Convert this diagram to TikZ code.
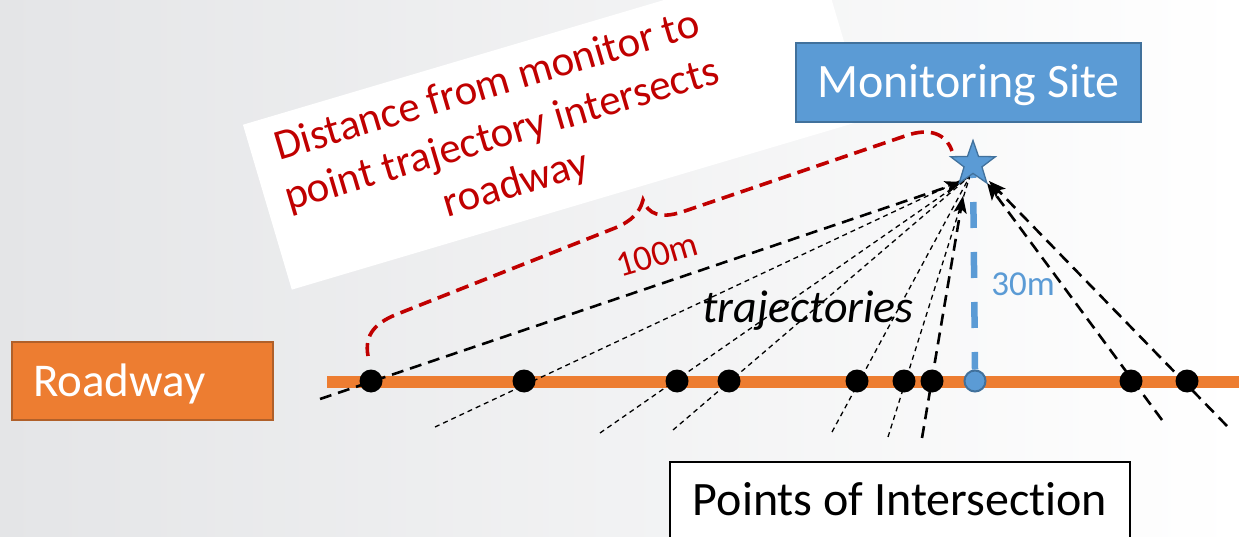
\documentclass[tikz,border=0pt]{standalone}
\usepackage{fontspec}
\setmainfont{Carlito}[RawFeature={-liga;-calt;-dlig}]
\usetikzlibrary{shapes.geometric,arrows.meta}
\definecolor{roadorange}{HTML}{ED7D31}
\definecolor{roadedge}{HTML}{B0602A}
\definecolor{siteblue}{HTML}{5B9BD5}
\definecolor{siteedge}{HTML}{41719C}
\definecolor{notered}{HTML}{C00000}
\definecolor{bgleft}{HTML}{E4E5E7}
\begin{document}
\begin{tikzpicture}[x=1pt,y=-1pt,
  thicktraj/.style={line width=2.6pt,dash pattern=on 12pt off 7pt,-{Stealth[length=17pt,width=13pt,inset=4pt]}},
  thintraj/.style={line width=1.3pt,dash pattern=on 5pt off 4pt},
  dot/.style={circle,fill=black,inner sep=0pt,minimum size=23pt},
  bracepath/.style={draw=notered,line width=3.6pt,dash pattern=on 13pt off 7pt},
  sitestar/.style={star,star points=5,star point ratio=2.5,minimum size=47pt,inner sep=0pt,
    fill=siteblue,draw=siteedge,line width=1.3pt},
  labelbox/.style={inner xsep=0pt,inner ysep=0pt,line width=1.5pt}]
\clip (0,0) rectangle (1239,537);
\fill[left color=bgleft,right color=white] (0,0) rectangle (1239,537);

% white note box with red text
\node[fill=white,rotate=16.5,minimum width=600pt,minimum height=172pt,inner sep=0pt] (notebox) at (555,122) {};
\node[rotate=16.5,align=center,text=notered,font=\fontsize{43}{51}\selectfont] (notetext) at (502,136)
  {Distance from monitor to\\point trajectory intersects\\roadway};

% roadway line
\coordinate (roadstart) at (327,382);
\coordinate (roadend) at (1239,382);
\draw[roadorange,line width=12pt] (roadstart) -- (roadend);

% trajectory endpoints
\coordinate (s1) at (320,399);
\coordinate (s2) at (435,427);
\coordinate (s3) at (600,433);
\coordinate (s4) at (673,430);
\coordinate (s5) at (832,432);
\coordinate (s6) at (888,437);
\coordinate (s7) at (922,438);
\coordinate (s8) at (1162,420);
\coordinate (s9) at (1227,426);
\coordinate (a1) at (962,182);
\coordinate (a7) at (963,196);
\coordinate (a8) at (987,183);
\coordinate (a9) at (989,181);
\coordinate (cv) at (970,176);

\draw[thintraj] (s2) -- (cv);
\draw[thintraj] (s3) -- (cv);
\draw[thintraj] (s4) -- (cv);
\draw[thintraj] (s5) -- (cv);
\draw[thintraj] (s6) -- (cv);
\draw[thicktraj] (s1) -- (a1);
\draw[thicktraj] (s7) -- (a7);
\draw[thicktraj] (s8) -- (a8);
\draw[thicktraj] (s9) -- (a9);

% intersection points
\node[dot] (p1) at (371,381) {};
\node[dot] (p2) at (524,381) {};
\node[dot] (p3) at (677,381) {};
\node[dot] (p4) at (729,381) {};
\node[dot] (p5) at (857,381) {};
\node[dot] (p6) at (904,381) {};
\node[dot] (p7) at (932,381) {};
\node[dot] (p8) at (1131,381) {};
\node[dot] (p9) at (1187,381) {};

% monitoring site star and perpendicular
\coordinate (sc) at (973,164);
\node[circle,fill=siteblue,draw=siteedge,line width=2pt,inner sep=0pt,minimum size=21pt] (foot) at (975,381) {};
\draw[siteblue,line width=6.5pt,dash pattern=on 26pt off 24pt,dash phase=12pt] (sc) -- (foot.north);
\node[sitestar] (star) at (sc) {};

% red distance brace
\coordinate (bstart) at (368,356);
\coordinate (btip) at (643,200);
\coordinate (bend) at (952,151);
\draw[bracepath] (bstart) .. controls (364,334) and (376,322) .. (400,313)
  -- (615,228) .. controls (632,221) and (640,212) .. (btip)
  .. controls (648,214) and (660,219) .. (682,212)
  -- (905,136) .. controls (930,127) and (946,134) .. (bend);
\node[rotate=16.5,text=notered,font=\fontsize{36}{40}\selectfont] (dist) at (657,255) {100m};

% labels
\node[anchor=base,font=\fontsize{46}{50}\selectfont\itshape] (traj) at (808,322) {trajectories};
\node[anchor=base,text=siteblue,font=\fontsize{35}{40}\selectfont] (h30) at (1023,295) {30m};

\node[labelbox,fill=siteblue,draw=siteedge,minimum width=345pt,minimum height=79pt,
  text=white,font=\fontsize{48}{56}\selectfont,text height=40pt,text depth=9pt] (site) at (968.5,82.5) {Monitoring Site};
\node[labelbox,fill=roadorange,draw=roadedge,minimum width=261pt,minimum height=78pt,
  text=white,font=\fontsize{47}{56}\selectfont,text height=40pt,text depth=10pt,
  text width=219pt,align=left,inner xsep=21pt] (road) at (142.5,381) {Roadway};
\node[labelbox,fill=white,draw=black,line width=2pt,minimum width=460pt,anchor=north,
  font=\fontsize{48}{56}\selectfont,text height=53pt,text depth=60pt] (poi) at (900,461) {Points of Intersection};
\end{tikzpicture}
\end{document}
